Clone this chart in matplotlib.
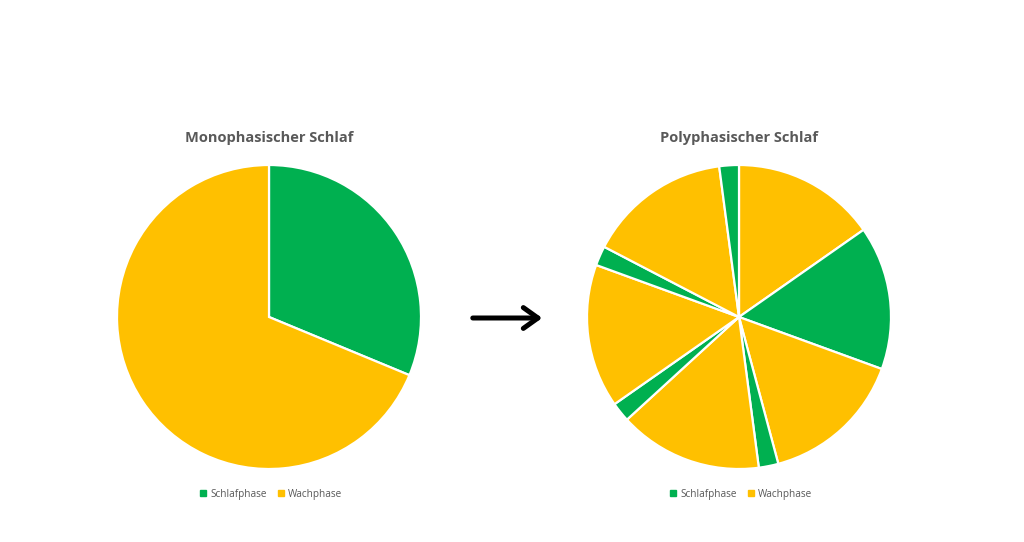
import matplotlib
matplotlib.use("Agg")
import matplotlib.pyplot as plt
from matplotlib.lines import Line2D

# Data
mono_labels = ["Schlafphase", "Wachphase"]
mono_values = [7.5, 16.5]
poly_labels = ["Wachphase", "Schlafphase", "Wachphase", "Schlafphase", "Wachphase",
               "Schlafphase", "Wachphase", "Schlafphase", "Wachphase", "Schlafphase"]
poly_values = [3.67, 3.67, 3.67, 0.5, 3.67, 0.5, 3.67, 0.5, 3.67, 0.5]
titles = ["Monophasischer Schlaf", "Polyphasischer Schlaf"]

GREEN = "#00B050"
YELLOW = "#FFC000"
TEXT = "#595959"
color_map = {"Schlafphase": GREEN, "Wachphase": YELLOW}

W, H = 1024, 542
fig = plt.figure(figsize=(W / 100, H / 100), dpi=100)
plt.rcParams['font.family'] = ['Open Sans', 'DejaVu Sans']

R = 152
box = 320
L = (box / 2) / R

def add_pie(cx, cy, labels, values, title):
    ax = fig.add_axes([(cx - box / 2) / W, (H - cy - box / 2) / H, box / W, box / H])
    ax.pie(values, colors=[color_map[l] for l in labels], startangle=90,
           counterclock=False, radius=1,
           wedgeprops=dict(edgecolor="white", linewidth=1.6))
    ax.set_xlim(-L, L)
    ax.set_ylim(-L, L)
    ax.set_aspect("equal")
    ax.axis("off")
    fig.text(cx / W, 1 - 138 / H, title, ha="center", va="center",
             fontsize=10.5, fontweight="bold", color=TEXT)
    handles = [Line2D([], [], marker="s", linestyle="none", markersize=4.5,
                      markerfacecolor=color_map[k], markeredgecolor=color_map[k])
               for k in ["Schlafphase", "Wachphase"]]
    fig.legend(handles, ["Schlafphase", "Wachphase"], loc="center",
               bbox_to_anchor=(cx / W + 2 / W, 1 - 494 / H), ncol=2, frameon=False,
               fontsize=7.2, labelcolor=TEXT, handletextpad=0.45, columnspacing=1.1,
               handlelength=0.6)

add_pie(269, 317, mono_labels, mono_values, titles[0])
add_pie(739, 317, poly_labels, poly_values, titles[1])

fig.patches.append(matplotlib.patches.FancyArrowPatch(
    (470, H - 318), (545, H - 318), transform=None,
    arrowstyle="->,head_length=7,head_width=5", lw=3.6, color="black",
    mutation_scale=1.5))

fig.savefig("out.png", dpi=100, facecolor="white")
